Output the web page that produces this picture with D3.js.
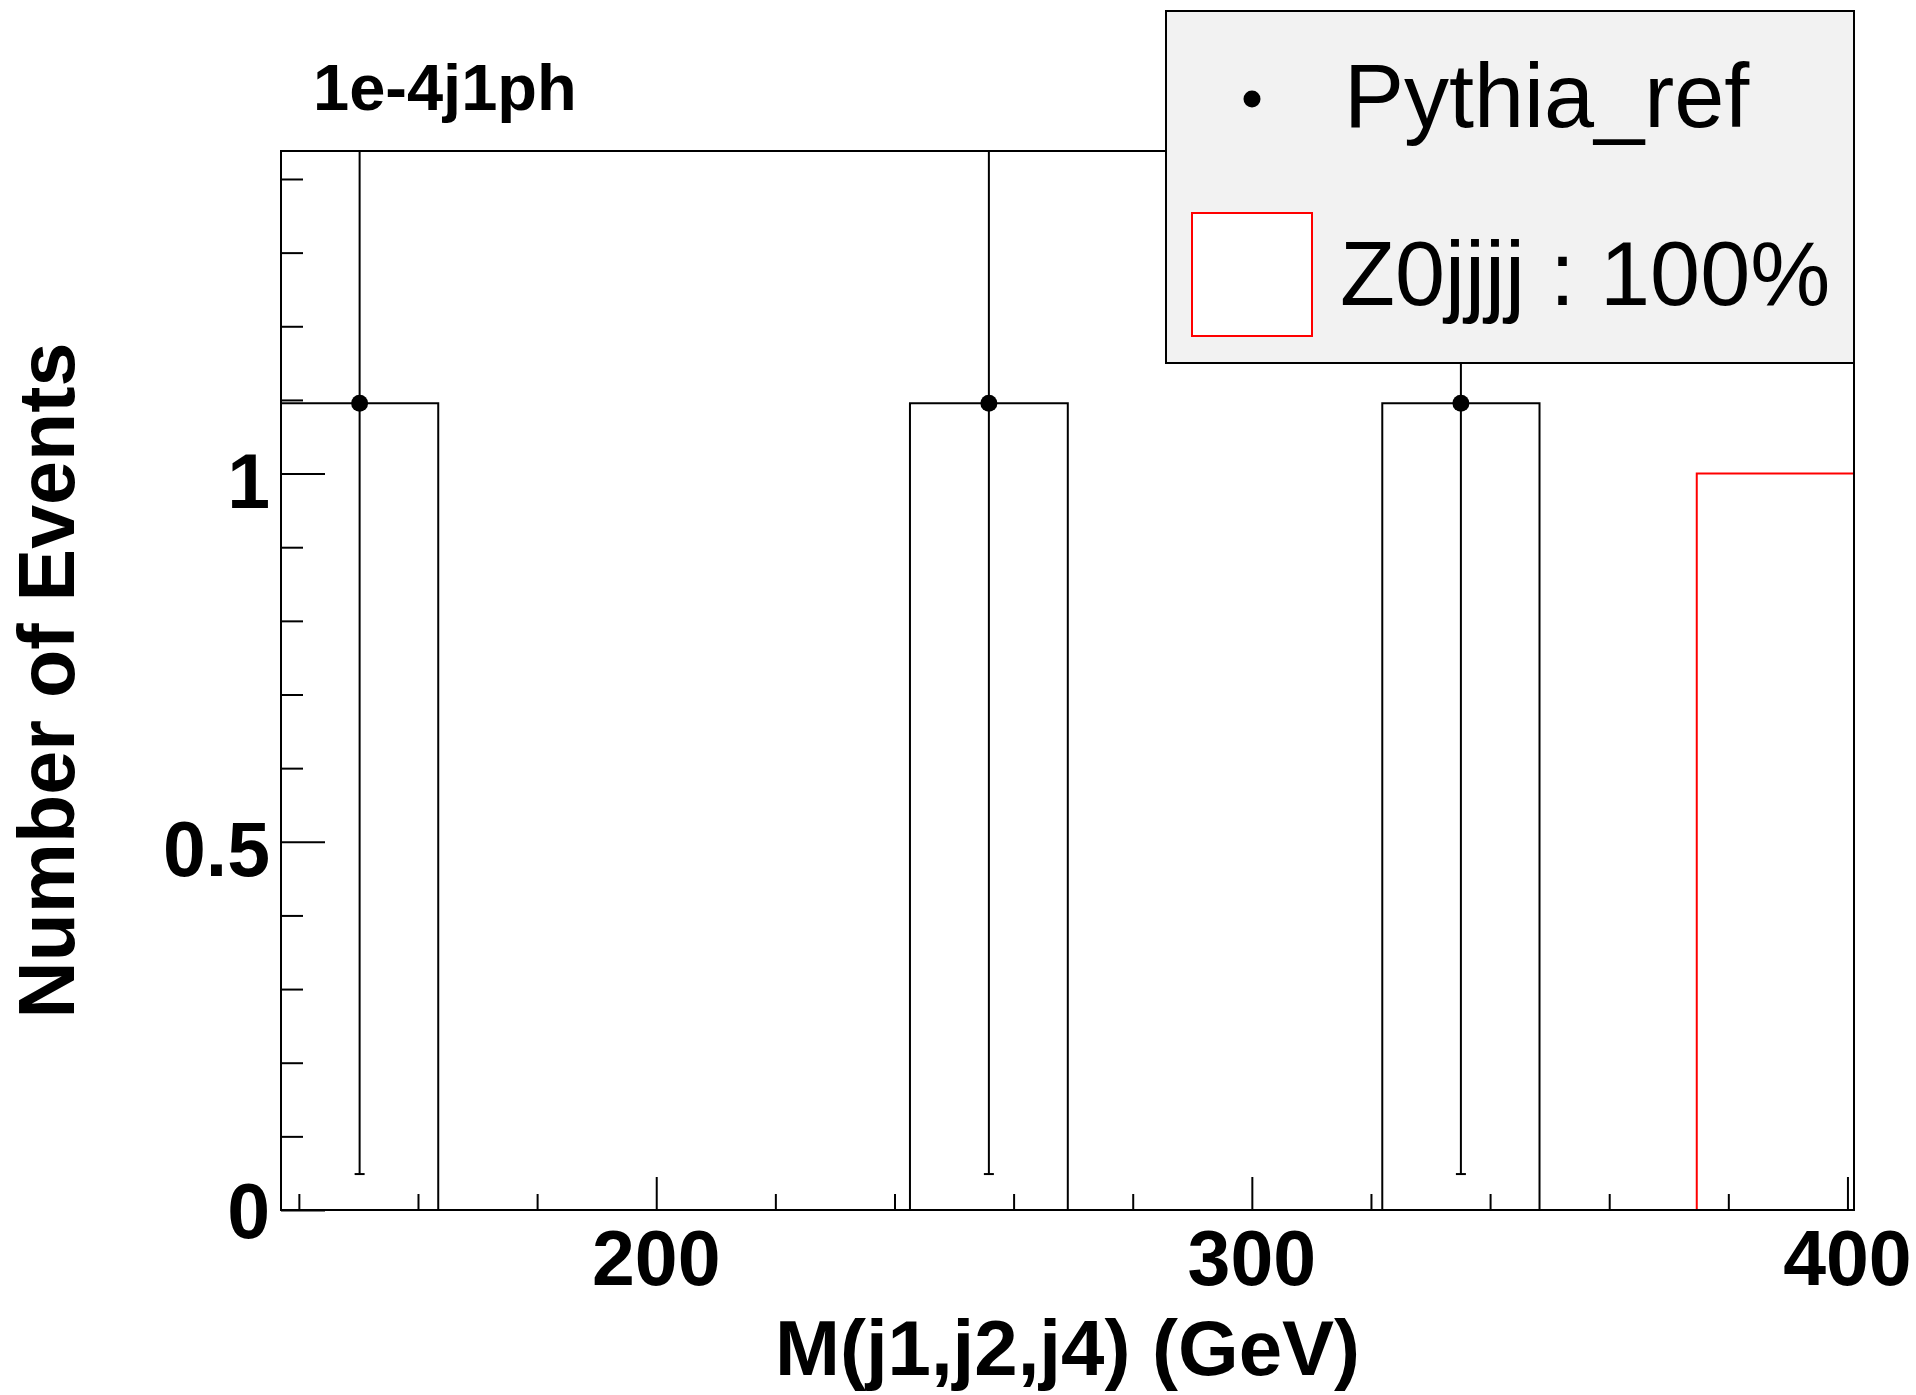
<!DOCTYPE html>
<html>
<head>
<meta charset="utf-8">
<script src="https://cdn.jsdelivr.net/npm/d3@7"></script>
<style>
  body { margin: 0; background: #fff; }
  svg { display: block; }
  text { font-family: "Liberation Sans", Arial, sans-serif; }
</style>
</head>
<body>
<div id="chart"></div>
<script>
// histogram bins (GeV) and contents
const binEdges = [137.0, 163.4, 189.8, 216.2, 242.6, 269.1, 295.5, 321.9, 348.3, 374.7, 401.1];
const pythiaRef = [1.0955, 0, 0, 0, 1.0955, 0, 0, 1.0955, 0, 0];
const pythiaErr = [1.0467, 0, 0, 0, 1.0467, 0, 0, 1.0467, 0, 0];
const z0jjjj = [0, 0, 0, 0, 0, 0, 0, 0, 0, 1];
const xMajor = [200, 300, 400];
const xMinor = [140, 160, 180, 220, 240, 260, 280, 320, 340, 360, 380];
const yMajor = [0, 0.5, 1];
const yMinor = [0.1, 0.2, 0.3, 0.4, 0.6, 0.7, 0.8, 0.9, 1.1, 1.2, 1.3, 1.4];
const yMax = 1.438;
const legendItems = ["Pythia_ref", "Z0jjjj : 100%"];

const W = 1916, H = 1395;
const padL = 281, padR = 1854, padT = 151, padB = 1210;

const svg = d3.select("#chart").append("svg")
    .attr("width", W)
    .attr("height", H);

const x = d3.scaleLinear().domain([binEdges[0], binEdges[binEdges.length - 1]]).range([padL, padR]);
const y = d3.scaleLinear().domain([0, yMax]).range([padB, padT]);

svg.append("clipPath").attr("id", "frame")
    .append("rect")
    .attr("x", padL).attr("y", padT)
    .attr("width", padR - padL).attr("height", padB - padT);

const plot = svg.append("g").attr("clip-path", "url(#frame)");

// step outline like ROOT's histogram drawing
function stepPoints(vals) {
    let pts = [[binEdges[0], 0]];
    vals.forEach((v, i) => {
        pts.push([binEdges[i], v]);
        pts.push([binEdges[i + 1], v]);
    });
    pts.push([binEdges[binEdges.length - 1], 0]);
    return pts;
}
const line = d3.line().x(d => x(d[0])).y(d => y(d[1]));

plot.append("path")
    .attr("d", line(stepPoints(z0jjjj)))
    .attr("fill", "none")
    .attr("stroke", "#ff0000")
    .attr("stroke-width", 2);

plot.append("path")
    .attr("d", line(stepPoints(pythiaRef)))
    .attr("fill", "none")
    .attr("stroke", "#000")
    .attr("stroke-width", 2);

const pts = pythiaRef.map((v, i) => ({
    c: (binEdges[i] + binEdges[i + 1]) / 2, v: v, e: pythiaErr[i]
})).filter(d => d.v > 0);

plot.selectAll(".err").data(pts).enter().append("line")
    .attr("class", "err")
    .attr("x1", d => x(d.c)).attr("x2", d => x(d.c))
    .attr("y1", d => y(d.v - d.e)).attr("y2", d => y(d.v + d.e))
    .attr("stroke", "#000").attr("stroke-width", 2);

plot.selectAll(".cap").data(pts).enter().append("line")
    .attr("class", "cap")
    .attr("x1", d => x(d.c) - 5).attr("x2", d => x(d.c) + 5)
    .attr("y1", d => y(d.v - d.e)).attr("y2", d => y(d.v - d.e))
    .attr("stroke", "#000").attr("stroke-width", 2);

plot.selectAll(".pt").data(pts).enter().append("circle")
    .attr("class", "pt")
    .attr("cx", d => x(d.c)).attr("cy", d => y(d.v))
    .attr("r", 8.5).attr("fill", "#000");

// axes
const xAxisMajor = d3.axisTop(x).tickValues(xMajor).tickSize(33).tickFormat("");
const xAxisMinor = d3.axisTop(x).tickValues(xMinor).tickSize(16).tickFormat("");
svg.append("g").attr("transform", `translate(0,${padB})`).call(xAxisMajor)
    .call(g => g.select(".domain").remove())
    .call(g => g.selectAll("line").attr("stroke-width", 2));
svg.append("g").attr("transform", `translate(0,${padB})`).call(xAxisMinor)
    .call(g => g.select(".domain").remove())
    .call(g => g.selectAll("line").attr("stroke-width", 2));

const yAxisMajor = d3.axisRight(y).tickValues(yMajor).tickSize(44).tickFormat("");
const yAxisMinor = d3.axisRight(y).tickValues(yMinor).tickSize(22).tickFormat("");
svg.append("g").attr("transform", `translate(${padL},0)`).call(yAxisMajor)
    .call(g => g.select(".domain").remove())
    .call(g => g.selectAll("line").attr("stroke-width", 2));
svg.append("g").attr("transform", `translate(${padL},0)`).call(yAxisMinor)
    .call(g => g.select(".domain").remove())
    .call(g => g.selectAll("line").attr("stroke-width", 2));

svg.selectAll(".xlab").data(xMajor).enter().append("text")
    .attr("class", "xlab")
    .attr("x", d => x(d)).attr("y", 1285)
    .attr("text-anchor", "middle")
    .attr("font-size", 77).attr("font-weight", "bold")
    .text(d => d);

svg.selectAll(".ylab").data(yMajor).enter().append("text")
    .attr("class", "ylab")
    .attr("x", 270).attr("y", d => y(d) + (d === 0 ? 28 : 34))
    .attr("text-anchor", "end")
    .attr("font-size", 77).attr("font-weight", "bold")
    .text(d => d3.format("~g")(d));

// frame
svg.append("rect")
    .attr("x", padL).attr("y", padT)
    .attr("width", padR - padL).attr("height", padB - padT)
    .attr("fill", "none").attr("stroke", "#000").attr("stroke-width", 2);

// titles
svg.append("text")
    .attr("x", (padL + padR) / 2).attr("y", 1375)
    .attr("text-anchor", "middle")
    .attr("font-size", 78).attr("font-weight", "bold")
    .text("M(j1,j2,j4) (GeV)");

svg.append("text")
    .attr("transform", `translate(74,${(padT + padB) / 2}) rotate(-90)`)
    .attr("text-anchor", "middle")
    .attr("font-size", 79).attr("font-weight", "bold")
    .text("Number of Events");

svg.append("text")
    .attr("x", 313).attr("y", 110)
    .attr("font-size", 65).attr("font-weight", "bold")
    .text("1e-4j1ph");

// legend
const leg = svg.append("g");
leg.append("rect")
    .attr("x", 1166).attr("y", 11)
    .attr("width", padR - 1166).attr("height", 352)
    .attr("fill", "#f2f2f2").attr("stroke", "#000").attr("stroke-width", 2);
leg.append("circle")
    .attr("cx", 1252).attr("cy", 99).attr("r", 8.5).attr("fill", "#000");
leg.append("rect")
    .attr("x", 1192).attr("y", 213)
    .attr("width", 120).attr("height", 123)
    .attr("fill", "#fff").attr("stroke", "#ff0000").attr("stroke-width", 2);
leg.selectAll(".legtext").data(legendItems).enter().append("text")
    .attr("class", "legtext")
    .attr("x", (d, i) => i === 0 ? 1344 : 1340)
    .attr("y", (d, i) => i === 0 ? 127 : 305)
    .attr("font-size", 90)
    .text(d => d);
</script>
</body>
</html>
